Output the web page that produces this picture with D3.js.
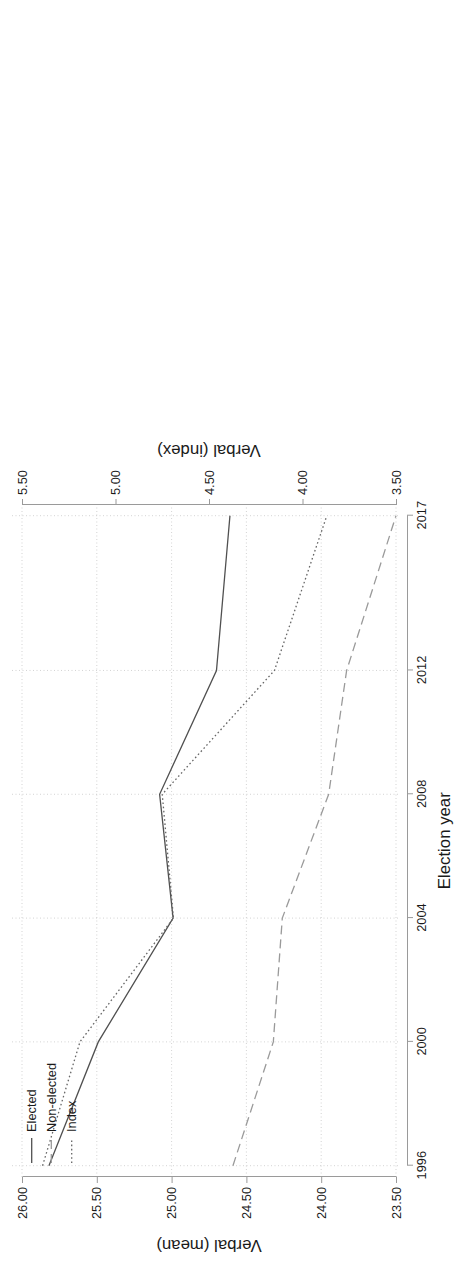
<!DOCTYPE html>
<html>
<head>
<meta charset="utf-8">
<script src="https://cdn.jsdelivr.net/npm/d3@7"></script>
<style>
  html, body { margin: 0; padding: 0; background: #fff; }
  svg { display: block; }
  text { font-family: "Liberation Sans", Arial, sans-serif; }
</style>
</head>
<body>
<script>
// ---- data ----
const years = [1996, 2000, 2004, 2008, 2012, 2017];
const elected = [25.82, 25.49, 24.99, 25.08, 24.70, 24.61];
const nonElected = [24.59, 24.32, 24.26, 23.95, 23.83, 23.50];
const indexVals = [5.39, 5.19, 4.69, 4.75, 4.15, 3.87];
const yearTicks = [1996, 2000, 2004, 2008, 2012, 2017];
const meanTicks = [26.0, 25.5, 25.0, 24.5, 24.0, 23.5];
const indexTicks = [5.5, 5.0, 4.5, 4.0, 3.5];
const legendLabels = ["Elected", "Non-elected", "Index"];

// ---- layout (drawn landscape, then rotated -90deg) ----
const W = 459, H = 1268;
const svg = d3.select("body").append("svg").attr("width", W).attr("height", H);
const g = svg.append("g").attr("transform", `translate(0,${H}) rotate(-90)`);

const x = d3.scaleLinear().domain([1996, 2017]).range([102.3, 752.3]);
const yMean = d3.scaleLinear().domain([23.5, 26]).range([396, 22]);
const yIdx = d3.scaleLinear().domain([3.5, 5.5]).range([396, 22]);

const plotLeft = 91, plotRight = 763, plotTop = 12, plotBottom = 400;
const axisCol = "#9a9a9a", gridCol = "#c8c8c8", textCol = "#1a1a1a";

// gridlines
g.append("g").selectAll("line").data(yearTicks).join("line")
  .attr("x1", d => x(d)).attr("x2", d => x(d))
  .attr("y1", plotTop).attr("y2", plotBottom)
  .attr("stroke", gridCol).attr("stroke-width", 0.8).attr("stroke-dasharray", "1,2.5");
g.append("g").selectAll("line").data(meanTicks).join("line")
  .attr("x1", plotLeft).attr("x2", plotRight)
  .attr("y1", d => yMean(d)).attr("y2", d => yMean(d))
  .attr("stroke", gridCol).attr("stroke-width", 0.8).attr("stroke-dasharray", "1,2.5");

// axes
function styleAxis(sel) {
  sel.selectAll("path.domain").attr("stroke", axisCol).attr("stroke-width", 1);
  sel.selectAll(".tick line").attr("stroke", axisCol).attr("stroke-width", 1);
  sel.selectAll(".tick text").attr("fill", textCol).style("font-size", "12.8px")
     .style("font-family", '"Liberation Sans", Arial, sans-serif');
}
const fmt = d3.format(".2f");
g.append("g").attr("transform", "translate(0,407)")
  .call(d3.axisBottom(x).tickValues(yearTicks).tickFormat(d3.format("d")).tickSize(6).tickSizeOuter(0).tickPadding(4))
  .call(styleAxis);
g.append("g").attr("transform", `translate(${plotLeft},0)`)
  .call(d3.axisLeft(yMean).tickValues(meanTicks).tickFormat(fmt).tickSize(6).tickSizeOuter(0).tickPadding(4))
  .call(styleAxis);
g.append("g").attr("transform", `translate(${plotRight},0)`)
  .call(d3.axisRight(yIdx).tickValues(indexTicks).tickFormat(fmt).tickSize(6).tickSizeOuter(0).tickPadding(4))
  .call(styleAxis);

// axis titles
g.append("text").attr("transform", `translate(28,${(22 + 396) / 2}) rotate(-90)`)
  .attr("text-anchor", "middle").attr("fill", textCol).style("font-size", "16.8px").text("Verbal (mean)");
g.append("text").attr("transform", `translate(823,${(22 + 396) / 2}) rotate(-90)`)
  .attr("text-anchor", "middle").attr("fill", textCol).style("font-size", "16.8px").text("Verbal (index)");
g.append("text").attr("x", (x(1996) + x(2017)) / 2).attr("y", 450)
  .attr("text-anchor", "middle").attr("fill", textCol).style("font-size", "16.8px").text("Election year");

// series
const seriesDefs = [
  { vals: elected, scale: yMean, color: "#505050", dash: null, w: 1.3 },
  { vals: nonElected, scale: yMean, color: "#9a9a9a", dash: "9,5", w: 1.3 },
  { vals: indexVals, scale: yIdx, color: "#666666", dash: "1.6,2.6", w: 1.3 }
];
seriesDefs.forEach(s => {
  const line = d3.line().x((d, i) => x(years[i])).y(d => s.scale(d));
  g.append("path").datum(s.vals).attr("d", line)
    .attr("fill", "none").attr("stroke", s.color).attr("stroke-width", s.w)
    .attr("stroke-dasharray", s.dash);
});

// legend
const legRows = [31.7, 51.3, 71.7];
const lg = g.append("g");
legendLabels.forEach((lab, i) => {
  const s = seriesDefs[i];
  lg.append("line").attr("x1", 105).attr("x2", 130).attr("y1", legRows[i]).attr("y2", legRows[i])
    .attr("stroke", s.color).attr("stroke-width", s.w).attr("stroke-dasharray", s.dash);
  lg.append("text").attr("x", 136).attr("y", legRows[i]).attr("dy", "0.35em")
    .attr("fill", textCol).style("font-size", "12.8px").text(lab);
});
</script>
</body>
</html>
